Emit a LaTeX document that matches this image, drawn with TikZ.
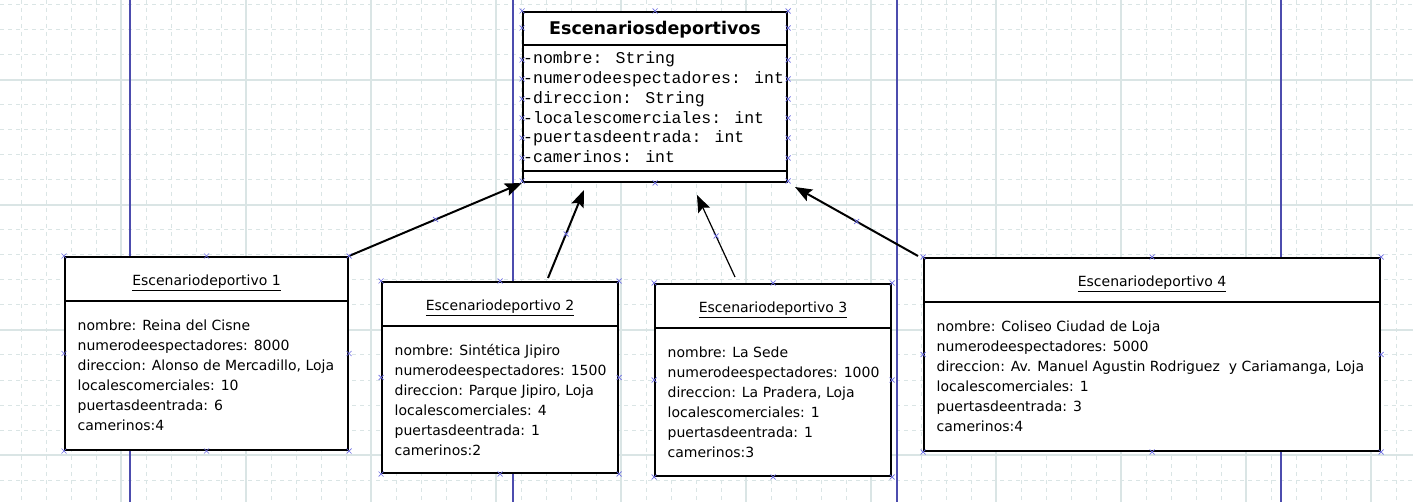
\documentclass[tikz,border=0pt]{standalone}
\usepackage{fontspec}
\setmainfont{DejaVu Sans}
\newfontfamily\attrfont{Liberation Mono}
\usetikzlibrary{arrows.meta,calc}

\definecolor{rejilla}{HTML}{DAE5E5}
\definecolor{pagina}{HTML}{4C4CAE}
\definecolor{marca}{HTML}{6E6EE2}

% asa de seleccion (pequena x azul)
\newcommand{\asa}[1]{\draw[asa] #1 +(-2.5,-2.5) -- +(2.5,2.5) +(-2.5,2.5) -- +(2.5,-2.5);}

\begin{document}
\begin{tikzpicture}[x=1pt,y=-1pt,
  caja/.style={draw,line width=2pt,fill=white,anchor=north west,inner sep=0},
  titulo/.style={anchor=base,inner sep=0,font=\fontsize{14}{17}\selectfont},
  datos/.style={anchor=north west,inner sep=0,align=left,font=\fontsize{14}{20}\selectfont},
  atributo/.style={anchor=base west,inner sep=0,font=\attrfont\fontsize{16.5}{20}\selectfont},
  flecha/.style={line width=2pt,-{Stealth[length=17pt,width=13pt,inset=3pt]}},
  asa/.style={draw=marca,line width=0.7pt},
  fino/.style={draw=rejilla,line width=1pt,dash pattern=on 4pt off 4pt},
  grueso/.style={draw=rejilla,line width=1.2pt}]

  \useasboundingbox (0,0) rectangle (1413,502);
  \fill[white] (0,0) rectangle (1413,502);

  % rejilla de fondo
  \foreach \x in {21,46,...,1413} \draw[fino] (\x,0) -- (\x,502);
  \foreach \y in {5,30,...,502} \draw[fino] (0,\y) -- (1413,\y);
  \foreach \x in {121,246,...,1413} \draw[grueso] (\x,0) -- (\x,502);
  \foreach \y in {80,205,...,502} \draw[grueso] (0,\y) -- (1413,\y);
  \foreach \x in {130,513,897,1281} \draw[pagina,line width=2pt] (\x,0) -- (\x,502);

  % clase
  \node[caja,minimum width=264pt,minimum height=170pt] (clase) at (522,11) {};
  \draw[line width=2pt] ($(clase.north west)+(0,34)$) -- ($(clase.north east)+(0,34)$);
  \draw[line width=2pt] ($(clase.north west)+(0,160)$) -- ($(clase.north east)+(0,160)$);
  \node[anchor=base,inner sep=0,font=\bfseries\fontsize{17.5}{20}\selectfont] (clase-t)
    at ($(clase.north)+(0,24)$) {Escenariosdeportivos};
  \foreach \a [count=\i] in {-nombre: String,-numerodeespectadores: int,-direccion: String,
      -localescomerciales: int,-puertasdeentrada: int,-camerinos: int}
    \node[atributo] (at\i) at ($(clase.north west)+(1,33+19.8*\i)$) {\a};

  % objetos
  \foreach \n/\x/\y/\w/\h [count=\i] in {e1/64/256/283/193,e2/381/281/236/191,
      e3/654/283/236/192,e4/923/257/456/193} {
    \node[caja,minimum width=\w pt,minimum height=\h pt] (\n) at (\x,\y) {};
    \draw[line width=2pt] ($(\n.north west)+(0,45.5)$) -- ($(\n.north east)+(0,45.5)$);
    \node[titulo] (\n-t) at ($(\n.north)+(0,29.5)$) {\underline{Escenariodeportivo \i}};
  }
  \node[datos] (e1-d) at ($(e1.north west)+(13.5,60.3)$) {\strut nombre: Reina del Cisne\\
    numerodeespectadores: 8000\\direccion: Alonso de Mercadillo, Loja\\
    localescomerciales: 10\\puertasdeentrada: 6\\camerinos:4};
  \node[datos] (e2-d) at ($(e2.north west)+(13.5,60.3)$) {\strut nombre: Sintética Jipiro\\
    numerodeespectadores: 1500\\direccion: Parque Jipiro, Loja\\
    localescomerciales: 4\\puertasdeentrada: 1\\camerinos:2};
  \node[datos] (e3-d) at ($(e3.north west)+(13.5,60.3)$) {\strut nombre: La Sede\\
    numerodeespectadores: 1000\\direccion: La Pradera, Loja\\
    localescomerciales: 1\\puertasdeentrada: 1\\camerinos:3};
  \node[datos] (e4-d) at ($(e4.north west)+(13.5,60.3)$) {\strut nombre: Coliseo Ciudad de Loja\\
    numerodeespectadores: 5000\\direccion: Av. Manuel Agustin Rodriguez~ y Cariamanga, Loja\\
    localescomerciales: 1\\puertasdeentrada: 3\\camerinos:4};

  % relaciones
  \draw[flecha] (e1.north east) -- coordinate (m1) (clase.south west);
  \draw[flecha] ($(e2.north)+(48,-3)$) -- coordinate (m2) ($(clase.south)+(-71,7)$);
  \draw[flecha,line width=1.2pt] ($(e3.north)+(-38,-6)$) -- coordinate (m3) ($(clase.south)+(42,12)$);
  \draw[flecha] ($(e4.north west)+(-5,-1)$) -- coordinate (m4) ($(clase.south east)+(7,4)$);

  % asas
  \foreach \y in {0,17,49,68,88,107,127,147,170} {
    \asa{($(clase.north west)+(0,\y)$)}
    \asa{($(clase.north east)+(0,\y)$)}
  }
  \asa{(clase.north)} \asa{(clase.south)}
  \foreach \n in {e1,e2,e3,e4} {
    \foreach \a in {north west,north,north east,east,south east,south,south west,west} {
      \asa{(\n.\a)}
    }
  }
  \foreach \m in {m1,m2,m3,m4} {\asa{(\m)}}
\end{tikzpicture}
\end{document}
